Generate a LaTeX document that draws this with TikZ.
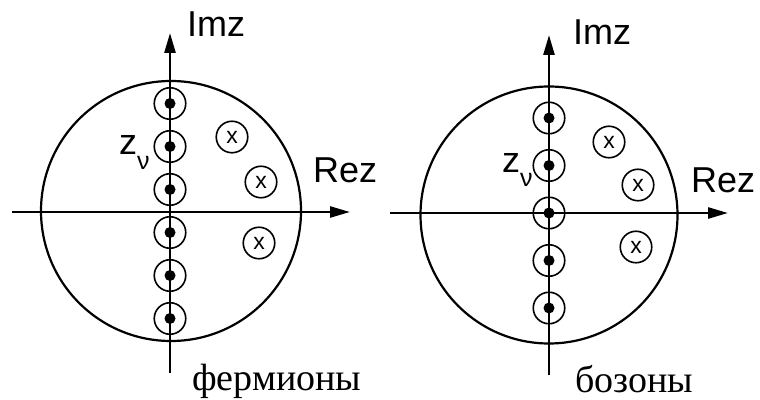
\documentclass[tikz,border=0pt]{standalone}
\usepackage{fontspec}
\setmainfont{Liberation Serif}
\setsansfont{Liberation Sans}
\usetikzlibrary{arrows.meta}

\tikzset{
  axis/.style={line width=2.6pt, -{Triangle[length=20pt,width=11pt]}},
  contour/.style={line width=2.2pt},
  pole/.style={circle, draw, line width=1.6pt, minimum size=31.5pt, inner sep=0pt},
  xpole/.style={pole, font=\sffamily\fontsize{23}{23}\selectfont},
  lbl/.style={inner sep=0pt, anchor=base west, font=\sffamily\fontsize{36}{36}\selectfont},
  caption/.style={inner sep=0pt, text depth=0pt, anchor=base west, font=\rmfamily\fontsize{38}{38}\selectfont}
}

\begin{document}
\begin{tikzpicture}[x=1pt, y=1pt]
    \useasboundingbox (0,0) rectangle (760,399);

    % --- фермионы ---
    % Оси
    \coordinate (fxa) at (12,187);
    \coordinate (fxb) at (350,187);
    \coordinate (fya) at (170,26);
    \coordinate (fyb) at (170,366);
    \draw[contour] (171,188) circle (130);
    \draw[axis] (fxa) -- (fxb);
    \draw[axis] (fya) -- (fyb);

    % Точки z_nu (нечетные)
    \foreach \k [count=\i] in {-3,-2,-1,0,1,2} {
        \node[pole] (fm\i) at (170,{188 + (2*\k+1)*21.5}) {};
        \fill (fm\i) circle (5.5pt);
    }
    % Полюса
    \node[xpole] (fp1) at (232,262) {x};
    \node[xpole] (fp2) at (261,217) {x};
    \node[xpole] (fp3) at (259,156) {x};

    \node[lbl] (fim) at (187,362) {Imz};
    \node[lbl] (fre) at (313,216) {Rez};
    \node[lbl] (fz) at (119,244) {z\raisebox{-15pt}{\fontsize{25}{25}\selectfont ν}};
    \node[caption] (fname) at (192,9) {фермионы};

    % --- бозоны ---
    % Оси
    \coordinate (bxa) at (390,186);
    \coordinate (bxb) at (728,186);
    \coordinate (bya) at (549,24);
    \coordinate (byb) at (549,364);
    \draw[contour] (549,184) circle (128.5);
    \draw[axis] (bxa) -- (bxb);
    \draw[axis] (bya) -- (byb);

    % Точки z_nu (четные)
    \foreach \k [count=\i] in {-2,-1,0,1,2} {
        \node[pole] (bm\i) at (549,{186 + \k*47.5}) {};
        \fill (bm\i) circle (5.5pt);
    }
    % Полюса
    \node[xpole] (bp1) at (609,257) {x};
    \node[xpole] (bp2) at (638,214) {x};
    \node[xpole] (bp3) at (636,152) {x};

    \node[lbl] (bim) at (573,354) {Imz};
    \node[lbl] (bre) at (691,206) {Rez};
    \node[lbl] (bz) at (502,226) {z\raisebox{-14pt}{\fontsize{25}{25}\selectfont ν}};
    \node[caption] (bname) at (575,7) {бозоны};
\end{tikzpicture}
\end{document}
